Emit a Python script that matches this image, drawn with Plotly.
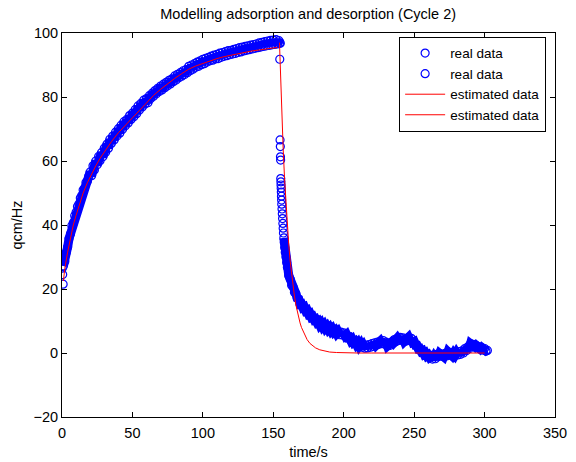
import plotly.graph_objects as go

# adsorption phase, real data (qcm/Hz); first three samples taken before t = 1 s
ads_t = [0.2, 0.5, 0.8] + list(range(1, 156))
ads_y = [26.5, 24.5, 21.5,
         27.2, 28.6, 31.4, 33.1, 35.8, 37.2, 39.8, 40.7, 42.9,
         44.0, 45.8, 46.6, 48.4, 49.2, 50.9, 51.6, 53.3, 53.7, 55.2,
         56.6, 55.4, 58.5, 57.2, 60.0, 58.8, 61.4, 60.1, 62.6, 61.3,
         64.0, 62.7, 65.3, 64.0, 66.8, 65.5, 67.8, 66.6, 69.0, 67.8,
         70.1, 68.7, 71.2, 69.9, 72.3, 71.0, 73.0, 71.9, 74.2, 73.0,
         75.0, 73.8, 76.1, 74.8, 77.2, 75.9, 78.0, 76.9, 79.0, 77.8,
         79.5, 78.2, 80.4, 79.5, 81.2, 80.2, 82.0, 81.0, 82.7, 81.7,
         83.4, 82.2, 84.0, 82.9, 84.6, 83.5, 85.2, 84.1, 85.7, 84.8,
         86.6, 85.3, 87.1, 86.0, 87.6, 86.5, 88.2, 87.0, 88.6, 87.6,
         89.6, 88.2, 90.0, 88.7, 90.4, 89.3, 90.9, 89.6, 91.3, 90.1,
         91.8, 90.4, 92.1, 90.9, 92.4, 91.3, 92.8, 91.5, 93.1, 91.9,
         93.3, 92.0, 93.7, 92.4, 93.9, 92.7, 94.2, 92.9, 94.5, 93.2,
         94.6, 93.4, 94.9, 93.6, 95.1, 93.9, 95.4, 94.1, 95.6, 94.4,
         95.8, 94.6, 96.0, 94.8, 96.2, 95.0, 96.4, 95.2, 96.6, 95.4,
         96.9, 95.6, 97.1, 95.8, 97.3, 96.0, 97.5, 96.1, 97.7, 96.3,
         97.8, 96.4, 97.9, 96.6, 97.6, 96.8]

# desorption phase, real data
des_t = [154.4, 154.6, 154.8, 155.0, 155.1, 155.2, 155.3, 155.4, 155.5, 155.6,
         155.7, 155.8, 155.9, 156.0, 156.2, 156.4, 156.6, 156.8, 157.0, 157.2,
         157.5, 157.8, 158.1, 158.5, 159.0, 159.5] + list(range(160, 303))
des_y = [96.8, 91.8, 66.6, 64.5, 61.3, 60.3, 54.5, 53.5, 52.5, 51.5,
         50.3, 49.0, 47.8, 46.5, 45.0, 43.5, 42.0, 40.5, 39.0, 37.5,
         36.0, 34.5, 33.0, 31.5, 30.0, 28.3,
         26.8, 24.2, 23.1, 21.2, 20.7, 19.0, 18.6, 17.1, 16.9, 15.3,
         15.4, 14.2, 14.4, 13.2, 13.4, 12.2, 12.4, 11.2, 11.4, 10.4,
         10.6, 9.6, 9.9, 8.8, 9.3, 8.3, 8.8, 7.8, 8.3, 7.4,
         7.9, 7.0, 7.5, 6.6, 7.0, 6.1, 6.6, 5.7, 6.5, 5.6,
         6.3, 5.4, 5.8, 4.8, 4.9, 3.9, 4.3, 3.3, 3.6, 2.7,
         3.2, 2.2, 2.8, 1.8, 2.4, 1.5, 2.5, 1.6, 2.6, 1.8,
         2.9, 2.1, 3.2, 2.4, 3.4, 2.7, 3.7, 2.9, 3.9, 2.8,
         3.4, 2.2, 2.9, 2.4, 3.4, 3.0, 4.2, 3.5, 4.6, 3.9,
         4.9, 4.0, 4.7, 3.6, 4.4, 3.8, 4.9, 3.9, 4.6, 3.4,
         3.6, 2.4, 2.4, 1.3, 1.4, 0.5, 0.7, -0.3, 0.0, -0.9,
         -0.6, -1.4, -1.1, -1.9, -1.1, -1.8, -0.4, -1.2, -0.1, -0.9,
         -0.4, -1.2, -0.1, -0.9, 0.4, -0.6, 0.1, -0.9, -0.1, -0.7,
         0.1, -0.6, 0.4, -0.4, 0.7, 0.0, 1.4, 0.7, 1.9, 1.3,
         2.9, 2.1, 2.7, 1.9, 2.4, 1.6, 1.9, 1.2, 1.7, 0.9,
         1.4, 0.6, 0.8]

# fitted model curves
fit_ads_t = [1, 2, 4, 6, 8, 10, 12, 15, 18, 21, 24, 27, 30, 35, 40, 45, 50, 55, 60,
             65, 70, 75, 80, 85, 90, 95, 100, 105, 110, 115, 120, 125, 130, 135,
             140, 145, 150, 153]
fit_ads_y = [22.5, 26.5, 31.5, 36.0, 40.0, 43.0, 46.0, 50.0, 53.2, 56.0, 58.5, 60.8,
             62.8, 66.0, 68.8, 71.3, 73.5, 75.8, 78.3, 80.5, 82.4, 84.2, 85.8, 87.3,
             88.7, 89.7, 90.5, 91.3, 92.0, 92.6, 93.1, 93.6, 94.0, 94.4, 94.7, 95.0,
             95.3, 95.5]

fit_des_t = [154.4, 155, 156, 157, 158, 159, 160, 161, 162, 163, 164, 165, 166, 167,
             168, 169, 170, 172, 174, 176, 178, 180, 183, 186, 190, 195, 200, 210,
             220, 250, 300]
fit_des_y = [97.0, 88.0, 75.2, 64.0, 54.5, 46.5, 39.5, 33.7, 28.7, 24.5, 20.8, 17.8,
             15.1, 12.9, 11.0, 9.4, 8.0, 5.8, 4.2, 3.0, 2.2, 1.6, 1.0, 0.6, 0.3,
             0.15, 0.05, 0.0, 0.0, 0.0, 0.0]

blue = "#0000FF"
red = "#FF0000"
font = "Liberation Sans, Arial, Helvetica, sans-serif"
fs = 14.5

fig = go.Figure()

# the dense sampling makes the overlapping circles look like a solid band;
# a wide line under the markers gives that look where the data is dense
for t, y in [(ads_t[3:], ads_y[3:]), (des_t[20:], des_y[20:])]:
    fig.add_trace(go.Scatter(x=t, y=y, mode="lines", showlegend=False, hoverinfo="skip",
                             line=dict(color=blue, width=9)))

for t, y in [(ads_t, ads_y), (des_t, des_y)]:
    fig.add_trace(go.Scatter(
        x=t, y=y, mode="markers", name="real data",
        marker=dict(symbol="circle-open", size=8, color=blue, line=dict(width=1.2, color=blue))))
for t, y in [(fit_ads_t, fit_ads_y), (fit_des_t, fit_des_y)]:
    fig.add_trace(go.Scatter(
        x=t, y=y, mode="lines", name="estimated data",
        line=dict(color=red, width=1)))

axis_style = dict(
    showline=True, linecolor="black", linewidth=1, mirror="allticks",
    ticks="inside", ticklen=5, tickcolor="black", showgrid=False, zeroline=False,
    automargin=False, tickfont=dict(size=fs, color="black"))

fig.update_xaxes(range=[0, 350], dtick=50, tick0=0, ticklabelstandoff=3,
                 title=dict(text="time/s", font=dict(size=fs, color="black"), standoff=6),
                 **axis_style)
fig.update_yaxes(range=[-20, 100], dtick=20, tick0=-20,
                 title=dict(text="qcm/Hz", font=dict(size=fs, color="black"), standoff=7),
                 **axis_style)

fig.update_layout(
    width=576, height=462,
    margin=dict(l=62, r=21, t=33, b=45),
    paper_bgcolor="white", plot_bgcolor="white",
    font=dict(family=font, size=fs, color="black"),
    title=dict(text="Modelling adsorption and desorption (Cycle 2)",
               x=0.535, xanchor="center", y=0.969, yanchor="middle",
               font=dict(size=fs, color="black")),
    showlegend=True,
    legend=dict(x=0.982, y=0.99, xanchor="right", yanchor="top",
                bgcolor="white", bordercolor="black", borderwidth=1,
                font=dict(size=13.5), itemwidth=40),
)

fig.write_html("out.html", config={"displayModeBar": False},
               post_script="document.body.style.margin='0';")
